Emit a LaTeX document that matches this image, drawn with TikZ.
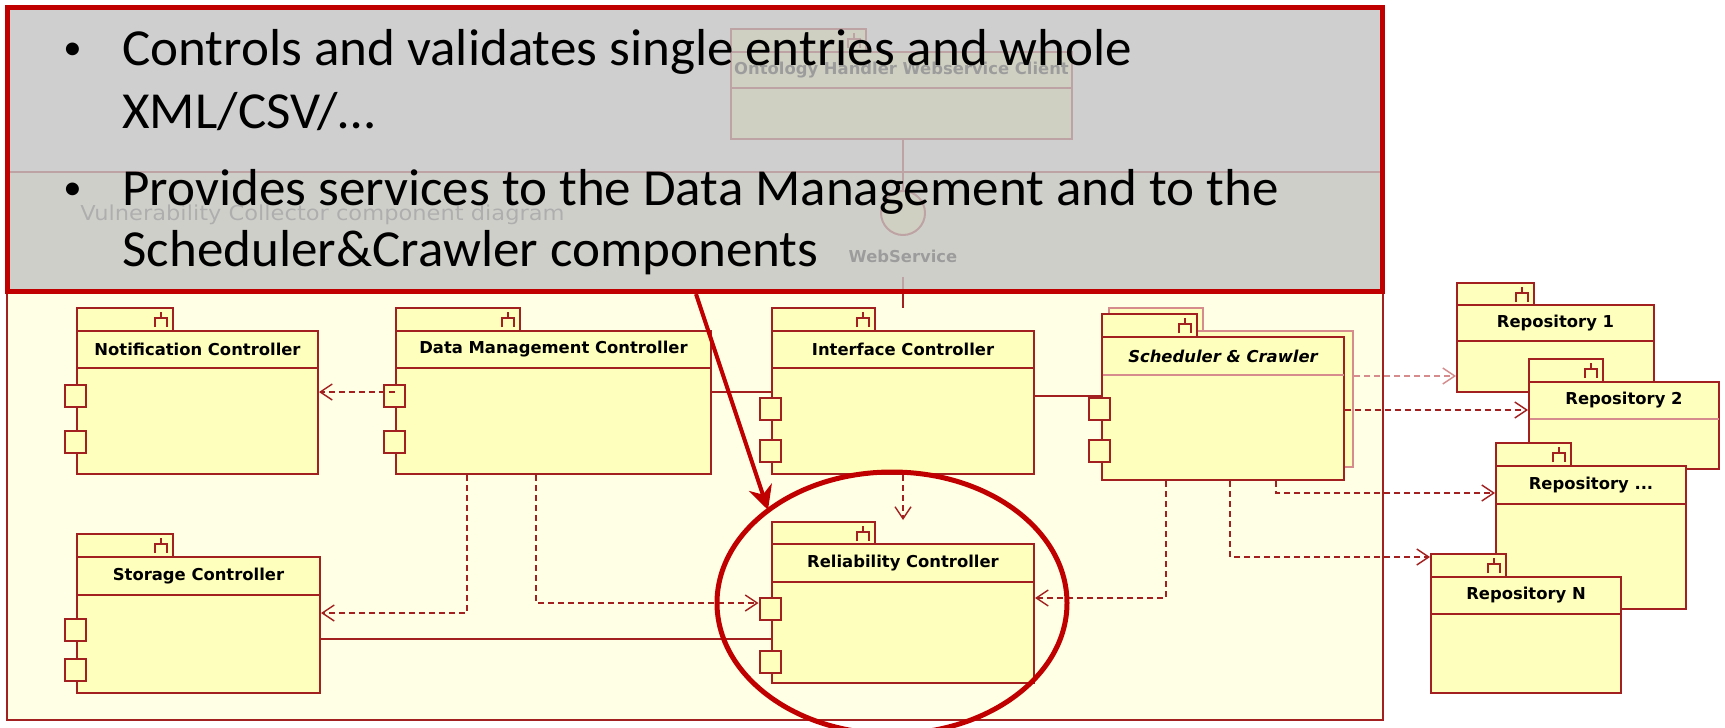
\documentclass[tikz,border=0pt]{standalone}
\usepackage{graphicx}
\usepackage{fontspec}
\setmainfont{Carlito}
\newfontfamily\notefont{Carlito}[FakeStretch=1.02]
\newfontfamily\umlfont{DejaVu Sans}
\usetikzlibrary{arrows.meta,fit,shapes.geometric,calc}

\definecolor{uml}{RGB}{163,32,32}
\definecolor{umllight}{RGB}{214,140,140}
\definecolor{compfill}{RGB}{255,255,189}
\definecolor{framefill}{RGB}{255,255,230}
\definecolor{framegray}{RGB}{90,90,90}
\definecolor{ovl}{RGB}{196,196,196}
\definecolor{accent}{RGB}{192,0,0}

\tikzset{
  ubox/.style={draw=uml, fill=compfill, line width=1pt},
  ubody/.style={ubox, rectangle, inner sep=0pt},
  usep/.style={draw=uml, line width=1pt},
  uport/.style={ubox, rectangle, inner sep=0pt, minimum width=10.5pt, minimum height=11pt},
  utext/.style={font=\umlfont\bfseries\fontsize{8.2}{9}\selectfont, inner sep=0pt, text=black},
  wire/.style={draw=uml, line width=0.8pt},
  dep/.style={draw=uml, line width=0.8pt, dash pattern=on 3pt off 2pt,
    -{Straight Barb[length=6pt,width=8pt,line width=0.7pt]}},
  notebox/.style={rectangle, inner sep=0pt, draw=accent, line width=2.5pt,
    fill=ovl, fill opacity=0.8},
  bullettext/.style={anchor=base west, inner sep=0pt, font=\notefont\fontsize{26}{30}\selectfont},
  bulletdot/.style={anchor=base west, inner sep=0pt, font=\notefont\fontsize{18}{20}\selectfont},
  focusring/.style={ellipse, draw=accent, line width=2.5pt, inner sep=0pt},
  pointer/.style={draw=accent, line width=2pt, -{Stealth[length=12pt,width=12pt]}},
}

% component icon on the tab: stem, bar and two legs
\newcommand\utabicon[2]{%
  \draw[uml, line width=1pt] (#1-12,#2+4) -- (#1-12,#2+10)
    (#1-18,#2+19) -- (#1-18,#2+10) -- (#1-6,#2+10) -- (#1-6,#2+19);}

% #1 name, #2 left, #3 tab top, #4 tab right, #5 body top, #6 right, #7 separator, #8 bottom, #9 title
\newcommand\ucomp[9]{%
  \draw[ubox] (#2,#3) rectangle (#4,#5);
  \utabicon{#4}{#3}
  \node[ubody, fit={(#2,#5) (#6,#8)}] (#1) {};
  \draw[usep] (#2,#7) -- (#6,#7);
  \node[utext] (#1-t) at ($(#2,#5)!0.5!(#6,#7)$) {#9};}

\newcommand\uport[3]{\node[uport] (#1) at (#2,#3) {};}

\begin{document}
\begin{tikzpicture}[x=0.5pt,y=-0.5pt]
\useasboundingbox (0,0) rectangle (1725,728);
\fill[white] (0,0) rectangle (1725,728);

% diagram frame
\node[rectangle, inner sep=0pt, draw=uml, line width=0.6pt, fill=framefill,
      fit={(7,172) (1383,720)}] (frame) {};
\node[anchor=base west, inner sep=0pt, text=framegray,
      font=\umlfont\fontsize{10.3}{12}\selectfont] (frametitle) at (80,220)
      {\scalebox{1.095}[1]{Vulnerability Collector component diagram}};

% web service client and its interface
\ucomp{ohwc}{731}{29}{866}{52}{1072}{88}{139}{Ontology Handler Webservice Client}
\node[circle, ubox, minimum size=22pt, inner sep=0pt] (ws) at (903,213) {};
\draw[wire] (ws.north |- ohwc.south) -- (ws.north);
\node[utext] (wslabel) at (903,256) {WebService};
\coordinate (wsend) at (903,308);
\draw[wire] ([yshift=-7pt]wslabel.south) -- (wsend);

% controllers
\ucomp{notif}{77}{308}{173}{331}{318}{368}{474}{Notification Controller}
\uport{notif-p1}{75.5}{396}
\uport{notif-p2}{75.5}{441.5}

\ucomp{dmc}{396}{308}{520}{331}{711}{368}{474}{Data Management Controller}
\uport{dmc-p1}{394.5}{396}
\uport{dmc-p2}{394.5}{441.5}

\ucomp{int}{772}{308}{875}{331}{1034}{368}{474}{Interface Controller}
\uport{int-p1}{770}{408.5}
\uport{int-p2}{770}{450.5}

\ucomp{storage}{77}{534}{173}{557}{320}{595}{693}{Storage Controller}
\uport{storage-p1}{75.5}{630}
\uport{storage-p2}{75.5}{670}

\ucomp{rel}{772}{522}{875}{544}{1034}{582}{683}{Reliability Controller}
\uport{rel-p1}{770}{609}
\uport{rel-p2}{770}{661.5}

% scheduler and crawler: stacked instances
\draw[ubox, draw=umllight] (1109,308) rectangle (1203,331);
\node[ubody, draw=umllight, fit={(1109,331) (1353,467)}] (schback) {};
\ucomp{sch}{1102}{314}{1197}{337}{1344}{375}{480}{\itshape Scheduler \& Crawler}
\draw[usep, draw=umllight] (1102.5,375) -- (1343.5,375);
\uport{sch-p1}{1099.5}{408.5}
\uport{sch-p2}{1099.5}{450.5}

% repositories
\ucomp{repoA}{1457}{283}{1534}{305}{1654}{341}{392}{Repository 1}
\ucomp{repoB}{1529}{359}{1603}{382}{1719}{419}{469}{Repository 2}
\draw[usep, draw=umllight] (1529.5,419) -- (1718.5,419);
\ucomp{repoX}{1496}{443}{1571}{466}{1686}{504}{609}{Repository ...}
\ucomp{repoN}{1431}{554}{1506}{577}{1621}{614}{693}{Repository N}

% assembly wires
\coordinate (w1) at (0,392);
\draw[wire] (dmc.east |- w1) -- (int.west |- w1);
\coordinate (w2) at (0,396);
\draw[wire] (int.east |- w2) -- (sch.west |- w2);
\coordinate (w3) at (0,639);
\draw[wire] (storage.east |- w3) -- (rel.west |- w3);

% dependencies
\coordinate (k0) at (0,392);
\draw[dep] (dmc-p1.center |- k0) -- (notif.east |- k0);
\coordinate (k1) at (467,613);
\draw[dep] (dmc.south -| k1) |- (storage.east |- k1);
\coordinate (k2) at (536,603);
\draw[dep] (dmc.south -| k2) |- (rel-p1.west |- k2);
\coordinate (k3) at (903,520);
\draw[dep] (int.south -| k3) -- (k3);
\coordinate (k4) at (1166,598);
\draw[dep] (sch.south -| k4) |- (rel.east |- k4);
\coordinate (k5) at (1230,557);
\draw[dep] (sch.south -| k5) |- (repoN.west |- k5);
\coordinate (k6) at (1276,493);
\draw[dep] (sch.south -| k6) |- (repoX.west |- k6);
\coordinate (k7) at (0,410);
\draw[dep] (sch.east |- k7) -- (repoB.west |- k7);
\coordinate (k8) at (0,376);
\draw[dep, draw=umllight] (schback.east |- k8) -- (repoA.west |- k8);

% callout box
\node[notebox, fit={(7,7) (1382,291)}] (note) {};
\node[bulletdot] (b1) at (63,59) {•};
\node[bullettext] (l1) at (122,65) {Controls and validates single entries and whole};
\node[bullettext] (l2) at (122,128) {XML/CSV/…};
\node[bulletdot] (b2) at (63,199) {•};
\node[bullettext] (l3) at (122,205) {Provides services to the Data Management and to the};
\node[bullettext] (l4) at (122,266) {Scheduler\&Crawler components};

% highlight
\node[focusring, minimum width=175pt, minimum height=131pt] (focus) at (892,603) {};
\coordinate (ptrstart) at (696,294);
\coordinate (ptrend) at (768,510);
\draw[pointer] (ptrstart) -- (ptrend);
\end{tikzpicture}
\end{document}
